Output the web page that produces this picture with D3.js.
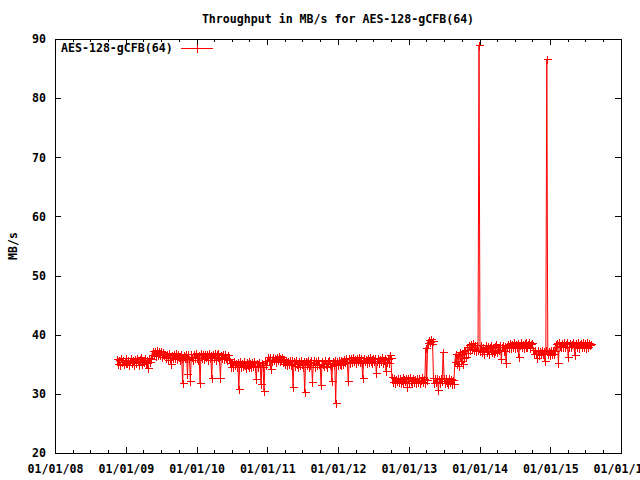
<!DOCTYPE html>
<html>
<head>
<meta charset="utf-8">
<script src="https://cdn.jsdelivr.net/npm/d3@7"></script>
<style>
  body { margin: 0; background: #fff; }
  text { font-family: "DejaVu Sans Mono", monospace; font-size: 11.6px; font-weight: bold; fill: #000; }
</style>
</head>
<body>
<script>
// measurement series: one sample every 5 days from the start date
var seriesName = "AES-128-gCFB(64)";
var startDate = "2008-11-15";
var stepDays = 5;
var throughput = [
  35.9, 35.1, 35.7, 34.9, 36.1, 35.4, 35.8, 35.0, 35.6, 35.2,
  36.0, 35.3, 35.8, 34.8, 35.6, 36.1, 35.2, 35.7, 34.9, 35.9,
  35.3, 36.1, 35.5, 34.9, 35.9, 36.2, 35.1, 35.8, 35.4, 36.0,
  35.2, 35.8, 34.3, 36.0, 35.4, 35.9, 36.5, 37.3, 36.6, 37.2,
  36.4, 37.1, 37.4, 36.5, 37.2, 36.6, 37.3, 36.3, 37.0, 36.5,
  36.8, 36.0, 36.7, 35.8, 36.9, 36.1, 35.0, 36.6, 36.0, 36.8,
  36.1, 36.9, 35.9, 36.7, 36.2, 35.7, 36.8, 36.0, 31.8, 36.6,
  36.0, 36.8, 36.1, 33.4, 36.7, 35.9, 32.2, 36.8, 36.2, 35.8,
  36.7, 36.0, 36.9, 36.1, 35.8, 36.6, 31.8, 36.9, 36.0, 36.7,
  35.9, 36.8, 36.2, 36.7, 35.8, 36.9, 36.1, 36.6, 32.7, 36.8,
  36.0, 36.9, 35.8, 36.7, 36.2, 36.9, 35.9, 32.7, 36.6, 36.1,
  36.8, 35.9, 36.7, 36.1, 35.8, 36.6, 35.9, 35.3, 34.6, 35.4,
  34.6, 35.5, 34.8, 35.3, 34.5, 35.4, 30.8, 35.5, 34.6, 35.3,
  34.7, 35.5, 34.9, 34.4, 35.4, 34.8, 35.6, 34.6, 35.2, 34.5,
  35.4, 34.7, 35.5, 34.6, 32.5, 35.3, 34.5, 35.4, 34.8, 31.7,
  35.3, 34.6, 30.5, 35.5, 34.8, 35.6, 36.2, 35.7, 36.3, 34.2,
  35.6, 36.3, 35.7, 36.1, 35.4, 36.2, 35.8, 36.4, 35.5, 36.0,
  35.7, 36.2, 35.4, 35.9, 35.0, 35.7, 34.9, 35.6, 35.1, 35.8,
  34.9, 35.7, 31.2, 35.5, 34.7, 35.8, 35.0, 34.6, 35.6, 34.9,
  35.7, 35.0, 34.6, 35.6, 30.3, 35.5, 34.8, 35.8, 34.5, 35.4,
  34.9, 35.7, 32.0, 35.3, 35.8, 34.6, 35.5, 34.8, 35.7, 35.0,
  34.6, 31.5, 35.6, 35.0, 34.7, 35.7, 35.1, 34.5, 35.5, 35.8,
  35.0, 34.7, 32.2, 35.6, 34.9, 35.8, 28.5, 35.5, 34.8, 35.7,
  35.0, 35.8, 34.9, 35.6, 35.1, 35.9, 35.4, 36.1, 35.3, 32.2,
  36.1, 35.3, 36.0, 35.4, 36.2, 35.5, 35.9, 35.2, 36.1, 35.6,
  36.2, 35.4, 36.0, 35.3, 32.7, 36.1, 35.5, 35.9, 35.2, 36.0,
  35.4, 36.2, 35.6, 35.9, 35.2, 36.1, 35.5, 36.0, 33.5, 35.6,
  36.1, 35.3, 35.9, 35.5, 36.2, 35.2, 35.8, 36.0, 33.8, 35.4,
  35.9, 35.3, 36.6, 36.0, 32.8, 32.0, 32.6, 31.9, 32.5, 32.1,
  32.7, 32.0, 32.6, 31.8, 32.4, 32.8, 31.9, 32.5, 32.1, 32.7,
  31.2, 32.6, 31.9, 32.8, 32.1, 31.8, 32.7, 32.0, 32.5, 31.9,
  32.6, 32.0, 32.7, 31.9, 32.4, 32.8, 32.0, 32.5, 31.8, 37.8,
  32.4, 38.6, 39.1, 38.8, 39.2, 38.5, 38.9, 32.6, 31.9, 32.7,
  32.0, 32.6, 30.6, 32.5, 31.8, 32.7, 32.1, 37.1, 32.6, 31.9,
  32.7, 32.0, 31.7, 32.6, 32.0, 32.5, 31.6, 32.3, 31.7, 35.4,
  36.8, 35.0, 36.5, 34.7, 37.1, 35.6, 36.8, 35.1, 37.3, 36.0,
  37.5, 36.3, 37.9, 36.9, 38.2, 37.4, 38.4, 37.6, 38.6, 37.4,
  38.3, 37.2, 38.2, 37.5, 89.0, 37.2, 38.3, 37.0, 38.0, 36.8,
  37.8, 38.2, 37.0, 38.1, 36.7, 37.9, 38.3, 37.1, 38.0, 36.9,
  38.1, 37.3, 38.4, 37.0, 38.0, 37.4, 38.2, 35.9, 37.9, 38.3,
  37.2, 38.1, 35.2, 38.0, 38.4, 37.7, 38.6, 37.8, 38.5, 37.9,
  38.7, 37.8, 38.5, 37.9, 38.6, 36.2, 38.3, 38.7, 37.9, 38.5,
  37.8, 38.6, 38.0, 38.8, 37.9, 38.5, 38.7, 37.8, 38.4, 38.6,
  37.4, 36.7, 37.5, 36.8, 36.1, 37.4, 36.6, 37.3, 36.7, 37.5,
  36.8, 37.3, 35.5, 37.4, 86.6, 36.7, 37.3, 36.6, 37.5, 36.8,
  37.2, 36.7, 37.3, 38.4, 38.0, 38.6, 35.2, 38.7, 38.1, 37.9,
  38.6, 38.0, 38.7, 37.9, 38.5, 38.8, 36.3, 38.0, 38.6, 37.9,
  38.5, 38.7, 37.9, 36.6, 38.6, 38.0, 38.7, 37.8, 38.5, 38.6,
  37.9, 38.7, 38.0, 38.6, 37.8, 38.5, 38.7, 38.0, 38.6, 38.2,
  38.4
];
var xDomain = ["2008-01-01", "2016-01-01"];
var yTicks = [20, 30, 40, 50, 60, 70, 80, 90];

var W = 640, H = 480;
var margin = {top: 39, right: 19, bottom: 27, left: 55};
var width = W - margin.left - margin.right,
    height = H - margin.top - margin.bottom;

var parse = d3.timeParse("%Y-%m-%d");
var t0 = parse(startDate);
var data = throughput.map(function(v, i) {
    return {date: d3.timeDay.offset(t0, i * stepDays), value: v};
});

var svg = d3.select("body").append("svg")
    .attr("width", W)
    .attr("height", H);

var g = svg.append("g")
    .attr("transform", "translate(" + margin.left + "," + margin.top + ")");

var xScale = d3.scaleTime().domain(xDomain.map(parse)).range([0, width]);
var yScale = d3.scaleLinear().domain([20, 90]).range([height, 0]);

var years = d3.timeYear.range(parse(xDomain[0]), d3.timeDay.offset(parse(xDomain[1]), 1));
var quarters = d3.timeMonth.every(3).range(parse(xDomain[0]), parse(xDomain[1]));

// axes (ticks drawn inward like gnuplot, mirrored on top/right)
var fmt = d3.timeFormat("%m/%d/%y");
var xAxis = d3.axisBottom(xScale).tickValues(years).tickFormat(fmt).tickSize(-6).tickPadding(12);
var xMinor = d3.axisBottom(xScale).tickValues(quarters).tickFormat("").tickSize(-3);
var xTop = d3.axisTop(xScale).tickValues(years).tickFormat("").tickSize(-6);
var xTopMinor = d3.axisTop(xScale).tickValues(quarters).tickFormat("").tickSize(-3);
var yAxis = d3.axisLeft(yScale).tickValues(yTicks).tickSize(-6).tickPadding(9);
var yRight = d3.axisRight(yScale).tickValues(yTicks).tickFormat("").tickSize(-6);

function style(sel) {
    sel.select(".domain").remove();
    sel.selectAll("line").attr("stroke", "#000").attr("shape-rendering", "crispEdges");
    sel.selectAll("text").attr("fill", "#000");
}

g.append("g").attr("transform", "translate(0," + height + ")").call(xMinor).call(style);
g.append("g").attr("transform", "translate(0," + height + ")").call(xAxis).call(style);
g.append("g").call(xTopMinor).call(style);
g.append("g").call(xTop).call(style);
g.append("g").call(yAxis).call(style);
g.append("g").attr("transform", "translate(" + width + ",0)").call(yRight).call(style);

g.append("rect")
    .attr("x", 0.5).attr("y", 0.5)
    .attr("width", width).attr("height", height)
    .attr("fill", "none").attr("stroke", "#000")
    .attr("shape-rendering", "crispEdges");

// series line + cross markers
var line = d3.line()
    .x(function(d) { return xScale(d.date); })
    .y(function(d) { return yScale(d.value); });

g.append("path")
    .datum(data)
    .attr("d", line)
    .attr("fill", "none")
    .attr("stroke", "#ff0000")
    .attr("stroke-width", 1);

function cross(x, y) {
    return "M" + (x - 4) + "," + y + "H" + (x + 4) + "M" + x + "," + (y - 4) + "V" + (y + 4);
}

g.append("path")
    .attr("d", data.map(function(d) {
        return cross(Math.round(xScale(d.date)) + 0.5, Math.round(yScale(d.value)) + 0.5);
    }).join(""))
    .attr("fill", "none")
    .attr("stroke", "#ff0000")
    .attr("stroke-width", 1)
    .attr("shape-rendering", "crispEdges");

// title and y label
svg.append("text")
    .attr("x", margin.left + width / 2)
    .attr("y", 23)
    .attr("text-anchor", "middle")
    .text("Throughput in MB/s for " + seriesName);

svg.append("text")
    .attr("transform", "translate(17," + (margin.top + height / 2) + ") rotate(-90)")
    .attr("text-anchor", "middle")
    .text("MB/s");

// legend
var legend = g.append("g").attr("transform", "translate(0,9)");
legend.append("text")
    .attr("x", 6).attr("y", 4)
    .text(seriesName);
legend.append("line")
    .attr("x1", 126).attr("x2", 158).attr("y1", 0.5).attr("y2", 0.5)
    .attr("stroke", "#ff0000").attr("shape-rendering", "crispEdges");
legend.append("path")
    .attr("d", cross(142.5, 0.5))
    .attr("stroke", "#ff0000").attr("shape-rendering", "crispEdges");
</script>
</body>
</html>
